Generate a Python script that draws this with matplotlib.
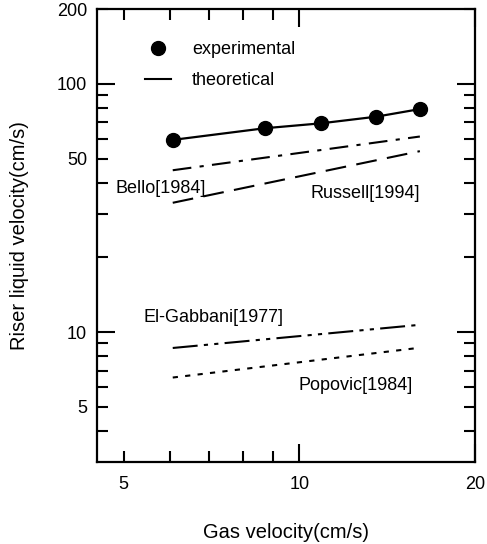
import matplotlib
matplotlib.use("Agg")
import matplotlib.pyplot as plt
from matplotlib.ticker import FixedLocator, NullFormatter
from matplotlib.lines import Line2D

plt.rcParams['font.family'] = ['Liberation Sans', 'DejaVu Sans']

# experimental data
gas_exp = [6.07, 8.73, 10.9, 13.55, 16.1]
liq_exp = [59.5, 66.3, 69.4, 73.8, 79.2]

# theoretical correlations (end points)
gas_th = [6.07, 16.1]
bello = [44.9, 61.4]
russell = [33.2, 53.6]
elgabbani = [8.63, 10.7]
popovic = [6.56, 8.65]

fig = plt.figure(figsize=(4.87, 5.44), dpi=100)
ax = fig.add_axes([0.199, 0.151, 0.776, 0.832])

ax.plot(gas_exp, liq_exp, color='black', lw=1.6, marker='o', ms=10)
ax.plot(gas_th, bello, color='black', lw=1.5, ls=(0, (9, 4, 2, 4)))
ax.plot(gas_th, russell, color='black', lw=1.5, ls=(0, (10, 5)))
ax.plot(gas_th, elgabbani, color='black', lw=1.5, ls=(0, (12, 3, 2, 3, 2, 3)))
ax.plot(gas_th, popovic, color='black', lw=1.5, ls=(0, (2.5, 3.5)))

ax.set_xscale('log')
ax.set_yscale('log')
ax.set_xlim(4.5, 20)
ax.set_ylim(3, 200)

ax.xaxis.set_major_locator(FixedLocator([5, 10, 20]))
ax.xaxis.set_minor_locator(FixedLocator([6, 7, 8, 9]))
ax.set_xticklabels(['5', '10', '20'])
ax.xaxis.set_minor_formatter(NullFormatter())

ax.yaxis.set_major_locator(FixedLocator([5, 10, 50, 100, 200]))
ax.yaxis.set_minor_locator(FixedLocator([4, 6, 7, 8, 9, 20, 30, 40, 60, 70, 80, 90]))
ax.set_yticklabels(['5', '10', '50', '100', '200'])
ax.yaxis.set_minor_formatter(NullFormatter())

ax.tick_params(which='both', direction='in', top=True, right=True,
               width=1.5, labelsize=13)
ax.tick_params(which='major', length=13)
ax.tick_params(axis='y', which='major', pad=7)
ax.tick_params(axis='x', which='major', pad=10)
ax.tick_params(which='minor', length=8)
# 5, 50 and 200 are drawn as short ticks in the original
for t in ax.xaxis.get_major_ticks():
    if t.get_loc() == 5:
        t.tick1line.set_markersize(8)
        t.tick2line.set_markersize(8)
for t in ax.yaxis.get_major_ticks():
    if t.get_loc() in (5, 50, 200):
        t.tick1line.set_markersize(8)
        t.tick2line.set_markersize(8)

for s in ax.spines.values():
    s.set_linewidth(1.6)

ax.set_xlabel('Gas velocity(cm/s)', fontsize=14.5, labelpad=22)
ax.set_ylabel('Riser liquid velocity(cm/s)', fontsize=14.5, labelpad=20)

ax.text(4.85, 38, 'Bello[1984]', fontsize=13, ha='left', va='center')
ax.text(10.44, 36.3, 'Russell[1994]', fontsize=13, ha='left', va='center')
ax.text(5.4, 11.5, 'El-Gabbani[1977]', fontsize=13, ha='left', va='center')
ax.text(9.96, 6.08, 'Popovic[1984]', fontsize=13, ha='left', va='center')

handles = [Line2D([], [], color='black', marker='o', ms=10, ls='none'),
           Line2D([], [], color='black', lw=1.5)]
ax.legend(handles, ['experimental', 'theoretical'], loc='upper left',
          bbox_to_anchor=(0.085, 0.965), frameon=False, fontsize=13,
          handlelength=1.4, handletextpad=1.2, labelspacing=0.75)

fig.savefig('out.png', dpi=100)
